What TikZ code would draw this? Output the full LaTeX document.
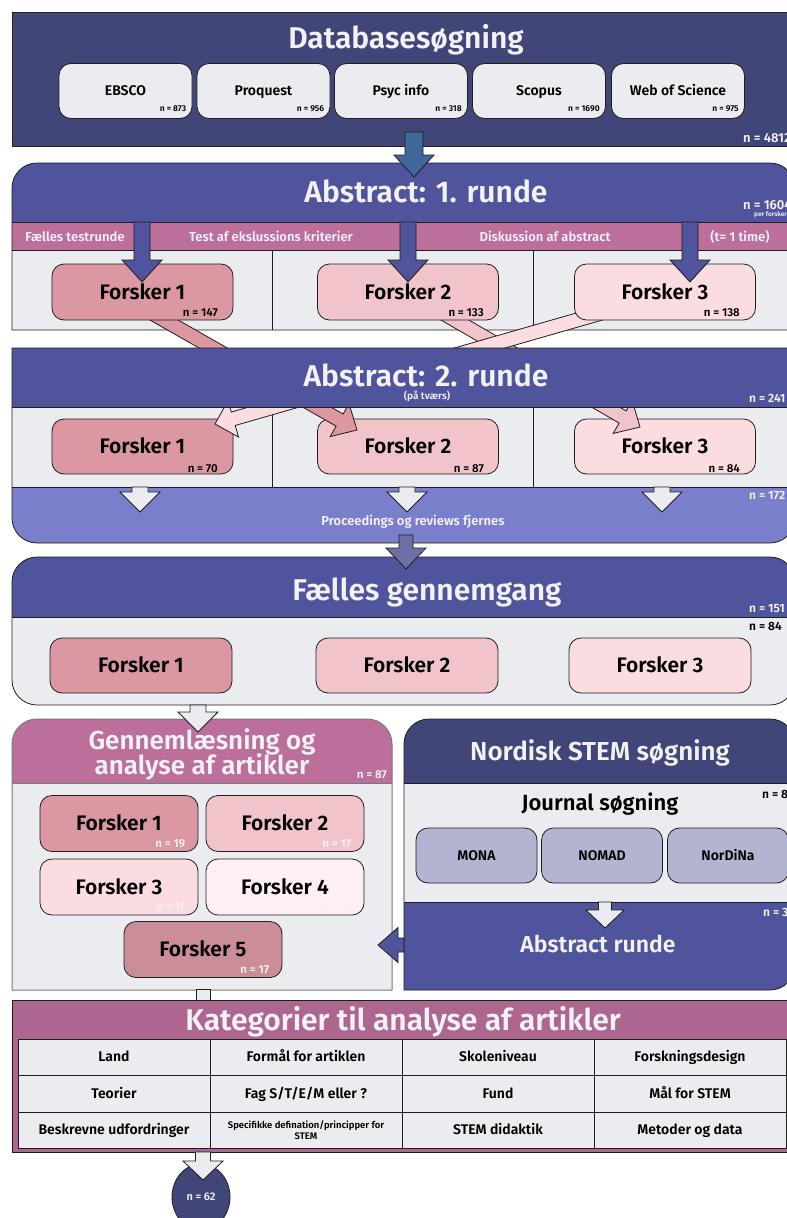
\documentclass[tikz,border=0pt]{standalone}
\usepackage{fontspec}
\setmainfont{Fira Sans SemiBold}
\usetikzlibrary{calc,shapes.geometric}

\definecolor{navy}{HTML}{424577}
\definecolor{bandblue}{HTML}{50549C}
\definecolor{lightband}{HTML}{7A7FCC}
\definecolor{pinkband}{HTML}{BB6F9A}
\definecolor{katpink}{HTML}{AD6690}
\definecolor{panel}{HTML}{EBECF0}
\definecolor{fa}{HTML}{DB98A2}
\definecolor{fb}{HTML}{F1C4CC}
\definecolor{fc}{HTML}{FADCE1}
\definecolor{fd}{HTML}{FEF0F2}
\definecolor{fe}{HTML}{CB8E98}
\definecolor{jbox}{HTML}{B3B4D2}
\definecolor{steel}{HTML}{3F6799}
\definecolor{dusk}{HTML}{6D6FA7}
\definecolor{wtxt}{HTML}{F1F1F6}
\definecolor{ln}{HTML}{1E1E1E}
\definecolor{greyline}{HTML}{7A7A7A}

\newcommand\fsz[1]{\fontsize{#1}{#1}\selectfont}
% rectangle with its own radius per corner (top-left, top-right, bottom-right, bottom-left); y grows downwards
\newcommand\rrpath[8]{(#1,#2+#5) arc[start angle=180,end angle=270,radius=#5] -- (#3-#6,#2) arc[start angle=270,end angle=360,radius=#6] -- (#3,#4-#7) arc[start angle=0,end angle=90,radius=#7] -- (#1+#8,#4) arc[start angle=90,end angle=180,radius=#8] -- cycle}
% block arrow from #2 to #3: shaft half width #4, head half width #5, head length #6
\newcommand\barrow[6]{%
  \coordinate (bh) at ($(#3)!#6!(#2)$);
  \path[#1] ($(#2)!#4!90:(#3)$) -- ($(bh)!#4!-90:(#2)$) -- ($(bh)!#5!-90:(#2)$) -- (#3)
    -- ($(bh)!#5!90:(#2)$) -- ($(bh)!#4!90:(#2)$) -- ($(#2)!#4!-90:(#3)$) -- cycle;}

\begin{document}
\begin{tikzpicture}[x=1pt,y=-1pt,
  line/.style={draw=ln, line width=0.8pt},
  ch/.style={text height=#1, text depth=0pt},
  card/.style={line, rounded corners=12pt, inner sep=0pt},
  big/.style={font=\fsz{21}, ch=14.5pt},
  small/.style={font=\fsz{14}, ch=9.7pt},
  wlab/.style={text=wtxt, inner sep=0pt},
  blab/.style={text=black, inner sep=0pt},
  arr/.style={line, line join=miter},
  cell/.style={line, fill=panel, minimum width=192pt, inner sep=0pt, align=center, font=\fsz{14}},
]
\useasboundingbox (0,0) rectangle (787,1218);
\clip (0,0) rectangle (787,1218);

% ---------- Databasesøgning ----------
\path[line, fill=navy] (12,12) rectangle (800,146);
\node[wlab, anchor=base, font=\fsz{30}] (dbtitle) at (406,48.5) {Databasesøgning};
\foreach \k/\cx/\lab/\nn in {1/125.5/EBSCO/873, 2/263.5/Proquest/956, 3/401/Psyc info/318, 4/539/Scopus/1690, 5/678/Web of Science/975}{
  \node[card, small, fill=panel, minimum width=133pt, minimum height=55pt] (db\k) at (\cx,91) {\lab};
  \node[blab, anchor=base east, font=\fsz{8.5}] (dbn\k) at ($(db\k.south east)+(-6,-7)$) {n = \nn};
}
\node[wlab, anchor=base west, font=\fsz{13}] (ntot) at (743,142) {n = 4812};

% ---------- Abstract: 1. runde (background) ----------
\begin{scope}
  \clip \rrpath{12}{163}{795}{330}{25}{25}{0.01}{0.01};
  \fill[bandblue] (0,160) rectangle (800,222);
  \fill[pinkband] (0,222) rectangle (800,250);
  \fill[panel] (0,250) rectangle (800,335);
\end{scope}
\draw[line] (12,222) -- (795,222) (12,250) -- (795,250) (272,250) -- (272,330) (533,250) -- (533,330);
\draw[line] \rrpath{12}{163}{795}{330}{25}{25}{0.01}{0.01};

% ---------- Abstract: 2. runde (body) ----------
\begin{scope}
  \clip \rrpath{12}{348}{795}{543}{0.01}{0.01}{25}{25};
  \fill[panel] (0,400) rectangle (800,487);
  \fill[lightband] (0,487) rectangle (800,550);
\end{scope}
\draw[line] (12,487) -- (795,487) (272,407) -- (272,487) (533,407) -- (533,487);
\foreach \k/\cx/\col/\nn/\nx in {1/142.5/fa/70/218, 2/408/fb/87/484, 3/665/fc/84/740}{
  \node[card, big, fill=\col, minimum width=181pt, minimum height=55pt] (rb\k) at (\cx,446.5) {Forsker \k};
  \node[blab, anchor=base east, font=\fsz{11.5}] (rbn\k) at (\nx,472) {n = \nn};
}
\foreach \k/\cx in {1/140, 2/407, 3/662}{
  \coordinate (ws\k) at (\cx,487);
  \coordinate (we\k) at (\cx,512);
  \barrow{arr, fill=panel}{ws\k}{we\k}{8pt}{20pt}{20pt}
}
\node[wlab, anchor=base west, font=\fsz{12}] (n172) at (749,499) {n = 172};
\node[wlab, anchor=base, font=\fsz{13}] (proc) at (413,525) {Proceedings og reviews fjernes};

% ---------- cross-over arrows between the two rounds ----------
\coordinate (pa1) at (150,312);   \coordinate (pa2) at (357,430);
\coordinate (pb1) at (441,312);   \coordinate (pb2) at (640,427);
\coordinate (pc1) at (612,310);   \coordinate (pc2) at (215,424);
\barrow{arr, fill=fa}{pa1}{pa2}{7pt}{19pt}{20pt}
\barrow{arr, fill=fb}{pb1}{pb2}{7pt}{19pt}{20pt}
\barrow{arr, fill=fc}{pc1}{pc2}{7pt}{19pt}{19pt}

% ---------- Abstract: 1. runde (cards and labels) ----------
\node[wlab, anchor=base, font=\fsz{30}] (r1title) at (426,202) {Abstract: 1. runde};
\node[wlab, anchor=base west, font=\fsz{13}] (n1604) at (743,209) {n = 1604};
\node[wlab, anchor=base west, font=\fsz{6.5}] (perf) at (754,216) {per forsker};
\foreach \k/\cx/\lab in {1/75/Fælles testrunde, 2/271/Test af ekslussions kriterier, 3/545/Diskussion af abstract, 4/740/(t= 1 time)}{
  \node[wlab, anchor=base, font=\fsz{13}] (tag\k) at (\cx,241.5) {\lab};
}
\foreach \k/\cx/\col/\nn/\nx in {1/142.5/fa/147/218, 2/408/fb/133/484, 3/665/fc/138/740}{
  \node[card, big, fill=\col, minimum width=181pt, minimum height=56pt] (ra\k) at (\cx,292) {Forsker \k};
  \node[blab, anchor=base east, font=\fsz{11.5}] (ran\k) at (\nx,316) {n = \nn};
}
\foreach \k/\cx in {1/142, 2/408, 3/690}{
  \coordinate (bs\k) at (\cx,222);
  \coordinate (be\k) at (\cx,282);
  \barrow{arr, fill=bandblue}{bs\k}{be\k}{8pt}{20pt}{22pt}
}

% ---------- Abstract: 2. runde (title band) ----------
\begin{scope}
  \clip \rrpath{12}{348}{795}{543}{0.01}{0.01}{25}{25};
  \fill[bandblue] (0,340) rectangle (800,407);
\end{scope}
\draw[line] (12,407) -- (795,407);
\draw[line] \rrpath{12}{348}{795}{543}{0.01}{0.01}{25}{25};
\node[wlab, anchor=base, font=\fsz{30}] (r2title) at (426,386) {Abstract: 2. runde};
\node[wlab, anchor=base, font=\fsz{10}] (tvaers) at (427,399.5) {(på tværs)};
\node[wlab, anchor=base west, font=\fsz{12}] (n241) at (749,402) {n = 241};

% arrow from Databasesøgning into round 1
\coordinate (ts) at (414,132);
\coordinate (te) at (414,177);
\barrow{arr, fill=steel}{ts}{te}{9pt}{20pt}{22pt}

% ---------- Fælles gennemgang ----------
\begin{scope}
  \clip \rrpath{12}{557}{795}{705}{25}{25}{25}{25};
  \fill[bandblue] (0,550) rectangle (800,617);
  \fill[panel] (0,617) rectangle (800,710);
\end{scope}
\draw[line] (12,617) -- (795,617);
\draw[line] \rrpath{12}{557}{795}{705}{25}{25}{25}{25};
\node[wlab, anchor=base, font=\fsz{30}] (fgtitle) at (427,600) {Fælles gennemgang};
\node[wlab, anchor=base west, font=\fsz{12}] (n151) at (749,612) {n = 151};
\node[blab, anchor=base west, font=\fsz{12}] (n84) at (749,630) {n = 84};
\foreach \k/\cx/\col in {1/141/fa, 2/407/fb, 3/660/fc}{
  \node[card, big, fill=\col, minimum width=182pt, minimum height=55pt] (fg\k) at (\cx,665.5) {Forsker \k};
}
\coordinate (ds) at (406,535);
\coordinate (de) at (406,569);
\barrow{arr, fill=dusk}{ds}{de}{7pt}{20pt}{21pt}

% ---------- Gennemlæsning og analyse af artikler ----------
\begin{scope}
  \clip \rrpath{12}{719}{392}{990}{25}{25}{0.01}{0.01};
  \fill[pinkband] (0,715) rectangle (400,783);
  \fill[panel] (0,783) rectangle (400,995);
\end{scope}
\draw[draw=greyline, line width=0.8pt] (12,783) -- (392,783);
\draw[draw=greyline, line width=1pt] \rrpath{12}{719}{392}{990}{25}{25}{0.01}{0.01};
\node[wlab, anchor=base, font=\fsz{26}] (gl1) at (202,749) {Gennemlæsning og};
\node[wlab, anchor=base, font=\fsz{26}] (gl2) at (202,774) {analyse af artikler};
\node[wlab, anchor=base east, font=\fsz{11.5}] (n87) at (387,778) {n = 87};
\foreach \k/\cx/\cy/\col/\nn in {1/119/823.5/fa/19, 2/285/823.5/fb/17, 3/119/887/fc/17, 4/285/887/fd/17, 5/203/949.5/fe/17}{
  \node[card, big, fill=\col, minimum width=158pt, minimum height=56pt] (ga\k) at (\cx,\cy) {Forsker \k};
  \node[wlab, anchor=base east, font=\fsz{11.5}] (gan\k) at ($(ga\k.south east)+(-13,-4.5)$) {n = \nn};
}
\coordinate (gs) at (198,705);
\coordinate (ge) at (198,732);
\barrow{arr, fill=panel}{gs}{ge}{8pt}{20pt}{20pt}

% ---------- Nordisk STEM søgning ----------
\begin{scope}
  \clip \rrpath{404}{719}{795}{990}{25}{25}{25}{0.01};
  \fill[navy] (400,715) rectangle (800,783);
  \fill[panel] (400,783) rectangle (800,902);
  \fill[bandblue] (400,902) rectangle (800,995);
\end{scope}
\draw[line] (404,783) -- (795,783) (404,902) -- (795,902);
\draw[line] \rrpath{404}{719}{795}{990}{25}{25}{25}{0.01};
\node[wlab, anchor=base, font=\fsz{26}] (nstitle) at (600,760) {Nordisk STEM søgning};
\node[blab, anchor=base, font=\fsz{22}] (journ) at (600,810) {Journal søgning};
\node[blab, anchor=base west, font=\fsz{12}] (n8) at (762,798) {n = 8};
\foreach \k/\cx/\lab in {1/476.5/MONA, 2/602/NOMAD, 3/728/NorDiNa}{
  \node[card, small, fill=jbox, minimum width=121pt, minimum height=55pt] (jr\k) at (\cx,855.5) {\lab};
}
\node[wlab, anchor=base west, font=\fsz{12}] (n3) at (763,916) {n = 3};
\node[wlab, anchor=base, font=\fsz{23}] (absr) at (598,952) {Abstract runde};
\coordinate (ns) at (605,902);
\coordinate (ne) at (605,928);
\barrow{arr, fill=panel}{ns}{ne}{6.5pt}{19pt}{18pt}
\coordinate (ls) at (404,945);
\coordinate (le) at (378,945);
\barrow{arr, fill=bandblue}{ls}{le}{7pt}{17.5pt}{20pt}

% ---------- Kategorier til analyse af artikler ----------
\path[line, fill=panel] (196,989) rectangle (210,1001);
\path[line, fill=katpink] (12,1000) rectangle (800,1152);
\node[wlab, anchor=base, font=\fsz{30}] (kattitle) at (403,1030) {Kategorier til analyse af artikler};
\foreach \r/\cy/\h/\la/\lb/\lc/\ld in {
  1/1057/36/Land/{Formål for artiklen}/Skoleniveau/Forskningsdesign,
  2/1093.5/37/Teorier/{Fag S/T/E/M eller ?}/Fund/{Mål for STEM}}{
  \node[cell, ch=9.7pt, minimum height=\h pt] (k\r a) at (114,\cy) {\la};
  \node[cell, ch=9.7pt, minimum height=\h pt] (k\r b) at (306,\cy) {\lb};
  \node[cell, ch=9.7pt, minimum height=\h pt] (k\r c) at (498,\cy) {\lc};
  \node[cell, ch=9.7pt, minimum height=\h pt] (k\r d) at (690,\cy) {\ld};
}
\node[cell, ch=9.7pt, minimum height=36pt] (k3a) at (114,1130) {Beskrevne udfordringer};
\node[cell, minimum height=36pt, font=\fsz{9.5}] (k3b) at (306,1130) {Specifikke defination/principper for\\[1pt]STEM};
\node[cell, ch=9.7pt, minimum height=36pt] (k3c) at (498,1130) {STEM didaktik};
\node[cell, ch=9.7pt, minimum height=36pt] (k3d) at (690,1130) {Metoder og data};

% ---------- result ----------
\node[ellipse, line, fill=navy, minimum width=58pt, minimum height=66pt, inner sep=0pt, text=wtxt, font=\fsz{11}, ch=7.6pt] (fin) at (201,1197) {n = 62};
\coordinate (fs) at (203,1152);
\coordinate (fe) at (203,1180);
\barrow{arr, fill=panel}{fs}{fe}{7.5pt}{20pt}{19pt}
\end{tikzpicture}
\end{document}
